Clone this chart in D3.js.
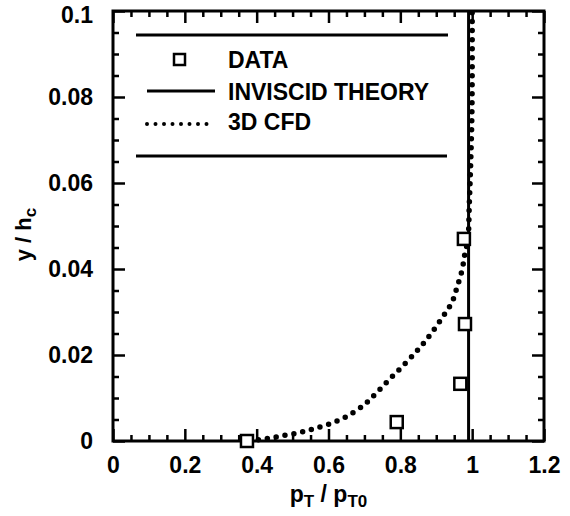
<!DOCTYPE html>
<html>
<head>
<meta charset="utf-8">
<script src="https://cdn.jsdelivr.net/npm/d3@7"></script>
<style>
  body { margin: 0; background: #fff; }
  text { font-family: "Liberation Sans", Arial, Helvetica, sans-serif; font-weight: bold; fill: #000; }
</style>
</head>
<body>
<div id="chart"></div>
<script>
// measured data (p_T/p_T0 vs y/h_c)
const dataX = [0.373, 0.79, 0.967, 0.98, 0.977];
const dataY = [0.0, 0.0044, 0.0133, 0.0272, 0.047];

const theoryX = [0.99, 0.99];
const theoryY = [0.0, 0.1];

const cfdX = [0.38, 0.43, 0.47, 0.515, 0.557, 0.604, 0.651, 0.696, 0.721, 0.76, 0.805, 0.849, 0.883, 0.916, 0.944, 0.958, 0.972, 0.980, 0.988, 0.992, 0.996, 0.999, 1.0, 1.0];
const cfdY = [0.0, 0.0006, 0.0012, 0.0019, 0.0028, 0.0040, 0.0057, 0.0082, 0.0101, 0.0135, 0.0173, 0.0212, 0.0247, 0.0286, 0.0323, 0.0358, 0.0398, 0.0437, 0.0467, 0.055, 0.065, 0.075, 0.085, 0.1];

const xTicks = [0, 0.2, 0.4, 0.6, 0.8, 1.0, 1.2];
const xTickLabels = ["0", "0.2", "0.4", "0.6", "0.8", "1", "1.2"];
const yTicks = [0, 0.02, 0.04, 0.06, 0.08, 0.1];
const yTickLabels = ["0", "0.02", "0.04", "0.06", "0.08", "0.1"];

const legendLabels = ["DATA", "INVISCID THEORY", "3D CFD"];

const W = 570, H = 516;
const x = d3.scaleLinear().domain([0, 1.2]).range([113, 544]);
const y = d3.scaleLinear().domain([0, 0.1]).range([441, 11]);

const svg = d3.select("#chart").append("svg")
  .attr("width", W)
  .attr("height", H);

// minor tick values every 0.05 / 0.005
const xMinor = d3.range(0, 25).map(i => i * 0.05).filter(v => Math.round(v * 100) % 20 !== 0);
const yMinor = d3.range(0, 21).map(i => i * 0.005).filter(v => Math.round(v * 1000) % 20 !== 0);

function styleAxis(g) {
  g.select(".domain").remove();
  g.selectAll(".tick line").attr("stroke", "#000").attr("stroke-width", 2.5);
  g.selectAll(".tick text").style("font-size", "23px");
}

// bottom
svg.append("g").attr("transform", `translate(0,${y(0)})`)
  .call(d3.axisBottom(x).tickValues(xTicks).tickSize(-12).tickPadding(16)
    .tickFormat((d, i) => xTickLabels[i]))
  .call(styleAxis);
svg.append("g").attr("transform", `translate(0,${y(0)})`)
  .call(d3.axisBottom(x).tickValues(xMinor).tickSize(-6).tickFormat(""))
  .call(styleAxis);
// top
svg.append("g").attr("transform", `translate(0,${y(0.1)})`)
  .call(d3.axisTop(x).tickValues(xTicks).tickSize(-12).tickFormat(""))
  .call(styleAxis);
svg.append("g").attr("transform", `translate(0,${y(0.1)})`)
  .call(d3.axisTop(x).tickValues(xMinor).tickSize(-6).tickFormat(""))
  .call(styleAxis);
// left
const yAxisG = svg.append("g").attr("transform", `translate(${x(0)},0)`)
  .call(d3.axisLeft(y).tickValues(yTicks).tickSize(-12).tickPadding(20)
    .tickFormat((d, i) => yTickLabels[i]))
  .call(styleAxis);
// top label sits a bit lower in the original
yAxisG.selectAll(".tick text").filter(d => d === 0.1).attr("dy", "0.52em");
svg.append("g").attr("transform", `translate(${x(0)},0)`)
  .call(d3.axisLeft(y).tickValues(yMinor).tickSize(-6).tickFormat(""))
  .call(styleAxis);
// right
svg.append("g").attr("transform", `translate(${x(1.2)},0)`)
  .call(d3.axisRight(y).tickValues(yTicks).tickSize(-12).tickFormat(""))
  .call(styleAxis);
svg.append("g").attr("transform", `translate(${x(1.2)},0)`)
  .call(d3.axisRight(y).tickValues(yMinor).tickSize(-6).tickFormat(""))
  .call(styleAxis);

// frame
svg.append("rect")
  .attr("x", x(0)).attr("y", y(0.1))
  .attr("width", x(1.2) - x(0)).attr("height", y(0) - y(0.1))
  .attr("fill", "none").attr("stroke", "#000").attr("stroke-width", 3);

// inviscid theory
const theoryPts = theoryX.map((v, i) => [v, theoryY[i]]);
svg.append("path")
  .datum(theoryPts)
  .attr("d", d3.line().x(d => x(d[0])).y(d => y(d[1])))
  .attr("fill", "none").attr("stroke", "#000").attr("stroke-width", 3);

// 3D CFD dotted
const cfdPts = cfdX.map((v, i) => [v, cfdY[i]]);
svg.append("path")
  .datum(cfdPts)
  .attr("d", d3.line().x(d => x(d[0])).y(d => y(d[1])).curve(d3.curveCatmullRom))
  .attr("fill", "none").attr("stroke", "#000").attr("stroke-width", 5.5)
  .attr("stroke-linecap", "round").attr("stroke-dasharray", "0,9");

// data squares
const dataPts = dataX.map((v, i) => [v, dataY[i]]);
svg.selectAll(".sq").data(dataPts).enter().append("rect")
  .attr("class", "sq")
  .attr("x", d => x(d[0]) - 6).attr("y", d => y(d[1]) - 6)
  .attr("width", 12).attr("height", 12)
  .attr("fill", "#fff").attr("stroke", "#000").attr("stroke-width", 2.5);

// legend
const lg = svg.append("g");
lg.append("line").attr("x1", 136).attr("x2", 448).attr("y1", 35).attr("y2", 35)
  .attr("stroke", "#000").attr("stroke-width", 3);
lg.append("line").attr("x1", 136).attr("x2", 447).attr("y1", 156).attr("y2", 156)
  .attr("stroke", "#000").attr("stroke-width", 3);
lg.append("rect").attr("x", 174).attr("y", 54).attr("width", 11).attr("height", 11)
  .attr("fill", "#fff").attr("stroke", "#000").attr("stroke-width", 2.5);
lg.append("line").attr("x1", 147).attr("x2", 215).attr("y1", 91).attr("y2", 91)
  .attr("stroke", "#000").attr("stroke-width", 3);
lg.append("line").attr("x1", 147).attr("x2", 215).attr("y1", 124).attr("y2", 124)
  .attr("stroke", "#000").attr("stroke-width", 4)
  .attr("stroke-linecap", "round").attr("stroke-dasharray", "0,8.5");
const legendY = [68, 100, 130];
lg.selectAll(".lt").data(legendLabels).enter().append("text")
  .attr("class", "lt")
  .attr("x", 228).attr("y", (d, i) => legendY[i])
  .style("font-size", "23px")
  .text(d => d);

// axis titles
const xt = svg.append("text")
  .attr("x", x(0.6)).attr("y", 502)
  .attr("text-anchor", "middle")
  .style("font-size", "23px");
xt.append("tspan").text("p");
xt.append("tspan").attr("dy", 5).style("font-size", "17px").text("T");
xt.append("tspan").attr("dy", -5).text(" / p");
xt.append("tspan").attr("dy", 5).style("font-size", "17px").text("T0");

const yt = svg.append("text")
  .attr("transform", `translate(31,${y(0.048)}) rotate(-90)`)
  .attr("text-anchor", "middle")
  .style("font-size", "22px");
yt.append("tspan").text("y / h");
yt.append("tspan").attr("dy", 5).style("font-size", "17px").text("c");
</script>
</body>
</html>
